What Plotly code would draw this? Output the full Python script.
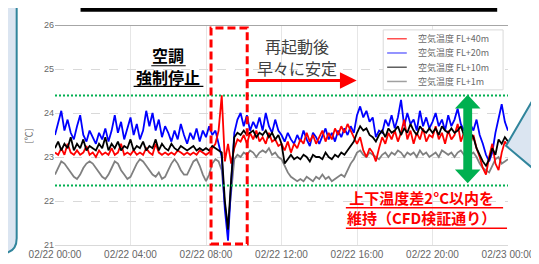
import pandas as pd
import plotly.graph_objects as go

# ---------------- data ----------------
times = pd.date_range("2024-02-22 00:00", "2024-02-23 00:00", freq="10min")

series_names = ["空気温度 FL+40m", "空気温度 FL+20m", "空気温度 FL+10m", "空気温度 FL+1m"]
series_colors = ["#ff0000", "#0000ff", "#000000", "#808080"]

temp_fl40 = [
    23.1, 23.05, 23.2, 23.05, 23.3, 23.1,
    23.05, 23.15, 23.05, 23.1, 23.25, 23.05,
    23.1, 23.0, 23.15, 23.05, 23.1, 23.05,
    23.2, 23.05, 23.1, 23.3, 23.05, 23.1,
    23.05, 23.15, 23.05, 23.1, 23.05, 23.2,
    23.1, 23.05, 23.3, 23.1, 23.05, 23.1,
    23.05, 23.1, 23.05, 23.15, 23.1, 23.05,
    23.1, 23.05, 23.1, 23.05, 23.15, 23.1,
    23.05, 23.1, 23.2, 23.3, 23.6, 24.4,
    22.9, 23.3, 22.85, 23.2, 23.4, 23.35,
    23.5, 23.3, 23.55, 23.4, 23.6, 23.35,
    23.45, 23.3, 23.55, 23.35, 23.4, 23.25,
    23.3, 23.15, 23.35, 23.1, 23.3, 23.2,
    23.4, 23.3, 23.55, 23.35, 23.5, 23.3,
    23.45, 23.6, 23.35, 23.55, 23.4, 23.65,
    23.5, 23.7, 23.55, 23.75, 23.6, 23.45,
    23.3, 23.45, 23.15, 23.0, 23.2, 23.1,
    22.9, 23.2, 23.45, 23.3, 23.55, 23.4,
    23.6, 23.35, 23.55, 23.85, 23.4, 23.6,
    23.3, 23.55, 23.4, 23.65, 23.35, 23.5,
    23.45, 23.7, 23.4, 23.55, 23.3, 23.6,
    23.4, 23.5, 23.75, 23.35, 23.55, 23.45,
    23.3, 23.5, 23.2, 23.0, 22.75, 22.6,
    23.0, 23.3, 22.85, 22.7, 23.1, 23.35,
    23.25,
]

temp_fl20 = [
    23.5, 23.8, 24.05, 23.6, 23.85, 23.55,
    23.4, 23.7, 23.95, 23.5, 23.35, 23.6,
    23.45, 23.3, 23.55, 23.4, 23.65, 23.35,
    23.6, 23.95, 23.55, 23.8, 23.4, 23.65,
    23.9, 23.5, 23.75, 23.4, 23.6, 24.05,
    23.7, 24.0, 23.6, 23.85, 23.45, 23.7,
    23.55, 23.35, 23.6, 23.4, 23.75, 23.5,
    23.3, 23.55, 23.4, 23.65, 23.35, 23.6,
    23.45, 23.7, 23.5, 23.6, 23.3, 23.0,
    21.8, 21.1, 22.4, 23.55, 23.85, 24.0,
    23.7, 23.95, 23.6, 23.8, 23.65, 23.9,
    23.6, 24.0, 23.7, 23.55, 23.85, 23.6,
    23.5, 23.35, 23.55, 23.4, 23.3, 23.5,
    23.35, 23.6, 23.4, 23.25, 23.55, 23.45,
    23.3, 23.5, 23.65, 23.4, 23.55, 23.35,
    23.6, 23.45, 23.65, 23.5, 23.7, 23.55,
    23.95, 24.15, 23.9, 24.05, 23.8, 23.9,
    23.45, 23.6, 23.55, 23.85, 23.7, 23.95,
    23.65, 23.9, 24.3, 23.7, 24.0, 23.75,
    23.85, 23.6, 24.05, 23.7, 23.9, 23.65,
    23.8, 24.0, 23.7, 23.85, 23.6, 23.95,
    23.7, 23.85, 24.1, 23.75, 23.6, 23.9,
    23.75, 23.6, 23.85, 23.5, 23.3, 23.05,
    22.9, 23.1, 23.55, 23.9, 24.2, 23.8,
    23.6,
]

temp_fl10 = [
    23.2, 23.35, 23.15, 23.3, 23.2, 23.45,
    23.15, 23.3, 23.2, 23.4, 23.15, 23.25,
    23.2, 23.15, 23.3, 23.2, 23.45, 23.15,
    23.3, 23.2, 23.35, 23.15, 23.25, 23.2,
    23.4, 23.15, 23.25, 23.2, 23.35, 23.15,
    23.25, 23.2, 23.4, 23.15, 23.3, 23.2,
    23.15, 23.3, 23.2, 23.15, 23.25, 23.2,
    23.15, 23.2, 23.25, 23.15, 23.2, 23.15,
    23.2, 23.15, 23.25, 23.2, 23.15, 23.1,
    22.0, 21.35, 22.5, 23.45, 23.55, 23.5,
    23.6, 23.5, 23.55, 23.6, 23.45, 23.55,
    23.5, 23.6, 23.45, 23.55, 23.4, 23.5,
    23.3, 22.85, 22.95, 23.05, 22.95, 23.0,
    22.95, 23.05, 23.0, 22.9, 23.05, 23.0,
    23.0, 22.95, 23.1, 23.0, 22.95, 23.05,
    23.0, 23.1, 23.05, 23.15, 23.25, 23.35,
    23.55, 23.7, 23.6, 23.65, 23.5, 23.45,
    23.35, 23.5, 23.6, 23.45, 23.65, 23.55,
    23.6, 23.7, 23.5, 23.65, 23.55, 23.75,
    23.6, 23.5, 23.7, 23.6, 23.55, 23.65,
    23.55, 23.65, 23.5, 23.7, 23.6, 23.55,
    23.65, 23.55, 23.6, 23.7, 23.5, 23.6,
    23.55, 23.45, 23.2, 23.05, 22.9, 22.8,
    22.95, 23.2, 23.05, 23.4, 23.3, 23.45,
    23.35,
]

temp_fl1 = [
    22.6, 22.75, 22.9, 22.85, 22.75, 22.65,
    22.55, 22.5, 22.6, 22.75, 22.85, 22.9,
    22.85, 22.75, 22.65, 22.55, 22.5, 22.6,
    22.75, 22.9, 22.85, 22.7, 22.6, 22.5,
    22.55, 22.7, 22.85, 22.95, 22.9, 22.8,
    22.7, 22.6, 22.55, 22.65, 22.5, 22.55,
    22.7, 22.85, 22.95, 22.85, 22.7, 22.6,
    22.6, 22.75, 22.9, 22.95, 22.8, 22.6,
    22.45, 22.6, 22.85, 22.95, 22.9, 22.7,
    21.9, 21.45, 22.3, 22.95, 23.05, 23.0,
    23.1, 23.05, 23.15, 23.1, 23.0, 23.1,
    23.15, 23.1, 23.2, 23.05, 23.1, 23.0,
    22.95, 22.8, 22.65, 22.55, 22.5, 22.45,
    22.5, 22.45, 22.55, 22.5, 22.45, 22.55,
    22.5, 22.6, 22.5, 22.55, 22.45, 22.5,
    22.55, 22.6, 22.55, 22.7, 22.85, 22.95,
    23.1, 23.15, 23.05, 23.0, 23.1, 23.05,
    23.0, 22.95, 23.05, 23.1, 23.0, 23.1,
    23.05, 23.15, 23.1, 23.0, 23.1, 23.05,
    23.1, 23.0, 23.15, 23.05, 23.1, 23.0,
    23.05, 23.1, 23.0, 23.15, 23.1, 23.05,
    23.1, 23.0, 23.1, 23.15, 23.05, 23.1,
    23.05, 23.1, 23.0, 22.85, 22.75, 22.7,
    22.65, 22.8, 22.95, 23.0, 22.85, 22.9,
    22.95,
]

series_values = [temp_fl40, temp_fl20, temp_fl10, temp_fl1]

tick_vals = pd.date_range("2024-02-22 00:00", "2024-02-23 00:00", freq="4h")
tick_text = ["02/22 00:00", "02/22 04:00", "02/22 08:00", "02/22 12:00",
             "02/22 16:00", "02/22 20:00", "02/23 00:00"]
y_ticks = [21, 22, 23, 24, 25, 26]

band_upper = 24.4   # green dotted limit lines
band_lower = 22.35
stop_start = "2024-02-22 08:16"   # red dashed box (AC forced stop)
stop_end = "2024-02-22 10:11"

# ---------------- layout helpers (pixel -> paper) ----------------
W, H = 539, 264
L, R, T, B = 47, 508, 16, 240


def px(x):
    return (x - L) / (R - L)


def py(y):
    return (B - y) / (B - T)


JP = "Noto Sans CJK JP"
TEAL = "#31859c"
LBLUE = "#dbe5f1"
GREEN = "#00b050"

fig = go.Figure()

draw_order = [3, 1, 0, 2]  # gray, blue, red, black
for i in draw_order:
    fig.add_trace(go.Scatter(
        x=times, y=series_values[i], mode="lines", name=series_names[i],
        line=dict(color=series_colors[i], width=1.8), showlegend=False,
    ))

shapes = []
annotations = []

# green limit lines
for v in (band_upper, band_lower):
    shapes.append(dict(type="line", xref="paper", yref="y", x0=0, x1=1, y0=v, y1=v,
                       line=dict(color=GREEN, width=2, dash="2px,2px")))

# top border line at 26
shapes.append(dict(type="line", xref="paper", yref="y", x0=0, x1=1, y0=26, y1=26,
                   line=dict(color="#a6a6a6", width=2)))

# red dashed box
shapes.append(dict(type="rect", xref="x", yref="paper", x0=stop_start, x1=stop_end,
                   y0=py(239), y1=py(19), line=dict(color="#ff0000", width=3, dash="8px,4px")))

# red arrow
shapes.append(dict(type="line", xref="paper", yref="paper", x0=px(242), x1=px(339),
                   y0=py(72.5), y1=py(72.5), line=dict(color="#ff0000", width=3)))
shapes.append(dict(type="path", xref="paper", yref="paper",
                   path=f"M {px(337)},{py(64)} L {px(354)},{py(72.5)} L {px(337)},{py(81)} Z",
                   fillcolor="#ff0000", line=dict(width=0)))

# green double arrow
pts = [(467, 87), (480, 101), (471.5, 101), (471.5, 163), (480, 163), (467, 177),
       (454, 163), (462.5, 163), (462.5, 101), (454, 101)]
path = "M " + " L ".join(f"{px(a)},{py(b)}" for a, b in pts) + " Z"
shapes.append(dict(type="path", xref="paper", yref="paper", path=path,
                   fillcolor=GREEN, line=dict(width=0)))

# top black bar
shapes.append(dict(type="rect", xref="paper", yref="paper", x0=px(73), x1=px(497),
                   y0=py(2.5), y1=py(-3), fillcolor="#000000", line=dict(width=0)))

# left panel (rounded corner)
shapes.append(dict(type="path", xref="paper", yref="paper",
                   path=(f"M {px(-10)},{py(-5)} L {px(8)},{py(-5)} L {px(8)},{py(233)} "
                         f"Q {px(8)},{py(249)} {px(-10)},{py(249)} Z"),
                   fillcolor=LBLUE, line=dict(color=TEAL, width=2)))

# right callout triangle
shapes.append(dict(type="path", xref="paper", yref="paper",
                   path=f"M {px(545)},{py(72)} L {px(506)},{py(139)} L {px(545)},{py(172)} Z",
                   fillcolor=LBLUE, line=dict(color=TEAL, width=2)))

# legend (manual, compact)
shapes.append(dict(type="rect", xref="paper", yref="paper", x0=px(381), x1=px(503),
                   y0=py(82), y1=py(21), fillcolor="white", line=dict(color="#d9d9d9", width=1)))
leg_y = [30, 44.5, 59, 73.5]
leg_colors = ["#ff5050", "#7070ff", "#606060", "#a0a0a0"]
for k in range(4):
    shapes.append(dict(type="line", xref="paper", yref="paper", x0=px(385), x1=px(405),
                       y0=py(leg_y[k]), y1=py(leg_y[k]), line=dict(color=leg_colors[k], width=1.5)))
    annotations.append(dict(xref="paper", yref="paper", x=px(414), y=py(leg_y[k]),
                            text=series_names[k], showarrow=False, xanchor="left", yanchor="middle",
                            font=dict(family=JP, size=9, color="#6a6a6a")))

# texts
annotations.append(dict(xref="paper", yref="paper", x=px(162), y=py(46.5), text="<b>空調</b>",
                        showarrow=False, xanchor="center", yanchor="middle",
                        font=dict(family=JP, size=16, color="#000000")))
annotations.append(dict(xref="paper", yref="paper", x=px(162), y=py(69), text="<b>強制停止</b>",
                        showarrow=False, xanchor="center", yanchor="middle",
                        font=dict(family=JP, size=16, color="#000000")))
shapes.append(dict(type="line", xref="paper", yref="paper", x0=px(145), x1=px(180),
                   y0=py(57.5), y1=py(57.5), line=dict(color="#000000", width=1.2)))
shapes.append(dict(type="line", xref="paper", yref="paper", x0=px(127), x1=px(198),
                   y0=py(78.5), y1=py(78.5), line=dict(color="#000000", width=1.2)))

annotations.append(dict(xref="paper", yref="paper", x=px(293), y=py(37), text="再起動後",
                        showarrow=False, xanchor="center", yanchor="middle",
                        font=dict(family=JP, size=16, color="#404040")))
annotations.append(dict(xref="paper", yref="paper", x=px(293), y=py(59.5), text="早々に安定",
                        showarrow=False, xanchor="center", yanchor="middle",
                        font=dict(family=JP, size=16, color="#404040")))

annotations.append(dict(xref="paper", yref="paper", x=px(420), y=py(202),
                        text="<b>上下温度差2°C以内を</b><br><b>維持（CFD検証通り）</b>",
                        showarrow=False, xanchor="center", yanchor="middle", align="center",
                        font=dict(family=JP, size=15, color="#ff0000")))
shapes.append(dict(type="line", xref="paper", yref="paper", x0=px(343), x1=px(503),
                   y0=py(202), y1=py(202), line=dict(color="#ff0000", width=1.5)))
shapes.append(dict(type="line", xref="paper", yref="paper", x0=px(343), x1=px(507),
                   y0=py(223), y1=py(223), line=dict(color="#ff0000", width=1.5)))

# y-axis title
annotations.append(dict(xref="paper", yref="paper", x=px(21), y=py(129), text="[℃]",
                        showarrow=False, textangle=-90, xanchor="center", yanchor="middle",
                        font=dict(family=JP, size=9, color="#666666")))

fig.update_layout(
    width=W, height=H,
    margin=dict(l=L, r=W - R, t=T, b=H - B),
    paper_bgcolor="white", plot_bgcolor="white",
    showlegend=False,
    shapes=shapes, annotations=annotations,
    xaxis=dict(range=[tick_vals[0], tick_vals[-1]], tickvals=tick_vals, ticktext=tick_text,
               showgrid=True, gridcolor="#e6e6e6", gridwidth=1, zeroline=False,
               showline=True, linecolor="#d9d9d9", linewidth=1, ticks="",
               tickfont=dict(family="Liberation Sans", size=10, color="#666666")),
    yaxis=dict(range=[21, 26], tickvals=y_ticks, showgrid=True, gridcolor="#d9d9d9",
               griddash="dash", gridwidth=1, zeroline=False, showline=False, ticks="",
               tickfont=dict(family="Liberation Sans", size=9, color="#666666")),
)

fig.write_html("out.html")
